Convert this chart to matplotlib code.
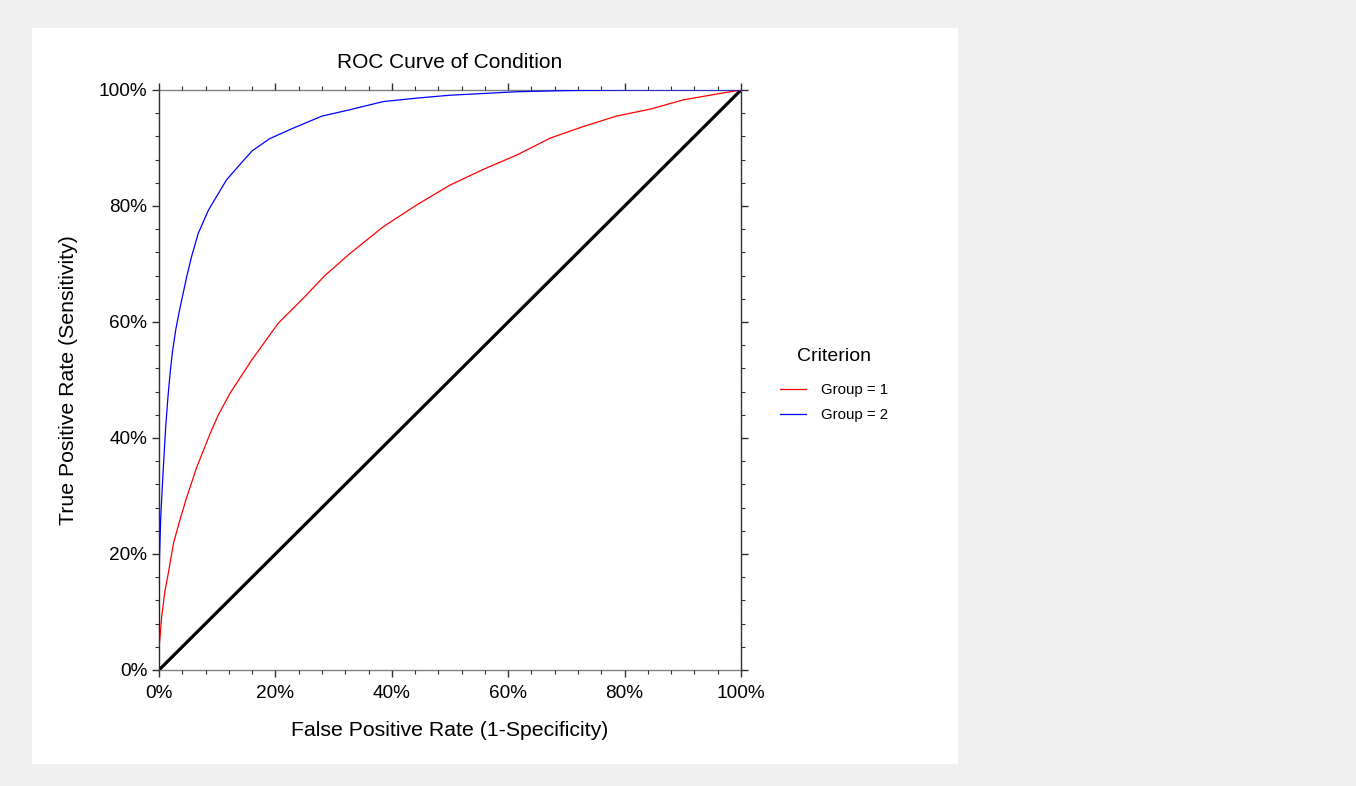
import matplotlib
matplotlib.use("Agg")
import matplotlib.pyplot as plt
from matplotlib.patches import Rectangle
from matplotlib.ticker import MultipleLocator, FuncFormatter

plt.rcParams['font.family'] = ['Liberation Sans', 'DejaVu Sans']

# Group = 1 ROC curve (FPR %, TPR %)
g1_fpr = [0, 0, 0.2, 0.45, 1.0, 1.6, 2.5, 3.6, 4.8, 6.5, 8.8, 10.2, 12.2, 15.9, 20.5, 24.5, 28.5,
          32.8, 38.5, 44.3, 50, 55.7, 61.5, 67.2, 72.9, 78.6, 84.4, 90.1, 95.8, 100]
g1_tpr = [0, 3.8, 6, 9.1, 13.5, 16.7, 21.9, 25.9, 29.9, 35, 40.8, 44, 47.7, 53.4, 59.8, 63.8, 68,
          71.8, 76.4, 80.2, 83.6, 86.3, 88.8, 91.7, 93.7, 95.5, 96.7, 98.3, 99.3, 100]

# Group = 2 ROC curve (FPR %, TPR %)
g2_fpr = [0, 0, 0.1, 0.3, 0.45, 0.75, 1.15, 1.5, 1.9, 2.3, 2.9, 3.6, 4.76, 5.6, 6.75, 8.5, 11.6,
          14.3, 16, 19, 23, 28, 32.8, 38.5, 44.3, 50, 61.5, 70, 80, 90, 100]
g2_tpr = [0, 14, 20, 26.4, 29.3, 35, 41.9, 46.6, 51.1, 54.8, 58.8, 62.4, 67.8, 71.3, 75.3, 79.3, 84.5,
          87.6, 89.5, 91.6, 93.4, 95.5, 96.6, 98, 98.6, 99.1, 99.7, 99.9, 100, 100, 100]

ref_x = [0, 100]
ref_y = [0, 100]

title = "ROC Curve of Condition"
xlabel = "False Positive Rate (1-Specificity)"
ylabel = "True Positive Rate (Sensitivity)"
legend_title = "Criterion"
labels = ["Group = 1", "Group = 2"]

W, H = 1356, 786
fig = plt.figure(figsize=(W / 100, H / 100), dpi=100)
fig.patch.set_facecolor('#f0f0f0')
fig.add_artist(Rectangle((32 / W, 1 - 764 / H), (958 - 32) / W, (764 - 28) / H,
                         transform=fig.transFigure, facecolor='white', edgecolor='none', zorder=-10))

ax = fig.add_axes([159 / W, 1 - 670 / H, (741 - 159) / W, (670 - 90) / H])
ax.set_zorder(1)
ax.set_facecolor('none')

ax.plot(ref_x, ref_y, color='black', lw=2.3, zorder=2, solid_capstyle='butt')
l1, = ax.plot(g1_fpr, g1_tpr, color='#ff0000', lw=0.9, zorder=3)
l2, = ax.plot(g2_fpr, g2_tpr, color='#0000ff', lw=0.9, zorder=4)

ax.set_xlim(0, 100)
ax.set_ylim(0, 100)
for a in (ax.xaxis, ax.yaxis):
    a.set_major_locator(MultipleLocator(20))
    a.set_minor_locator(MultipleLocator(4))
    a.set_major_formatter(FuncFormatter(lambda v, p: f"{v:.0f}%"))

ax.tick_params(which='both', direction='out', top=True, right=True, color='#303030')
ax.tick_params(which='major', length=5, width=1, labelsize=13.7)
ax.tick_params(which='minor', length=3, width=0.8)
ax.tick_params(axis='x', which='major', pad=6)
ax.tick_params(axis='y', which='major', pad=3.5)
for s in ax.spines.values():
    s.set_color('#303030')
    s.set_linewidth(1)
ax.spines['bottom'].set_color('#808080')
ax.spines['top'].set_color('#808080')
for side in ('top', 'right', 'bottom', 'left'):
    ax.spines[side].set_zorder(1)

ax.set_title(title, fontsize=15, pad=16)
ax.set_xlabel(xlabel, fontsize=15.3, labelpad=13.5)
ax.set_ylabel(ylabel, fontsize=15.3, labelpad=15)

leg = fig.legend([l1, l2], labels, title=legend_title, loc='center',
                 bbox_to_anchor=(834 / W, 1 - 385 / H), frameon=False,
                 fontsize=10.8, title_fontsize=14, handlelength=1.7, handletextpad=1.0,
                 labelspacing=0.75)
leg._legend_box.sep = 13

fig.savefig("out.png", dpi=100, facecolor=fig.get_facecolor())
